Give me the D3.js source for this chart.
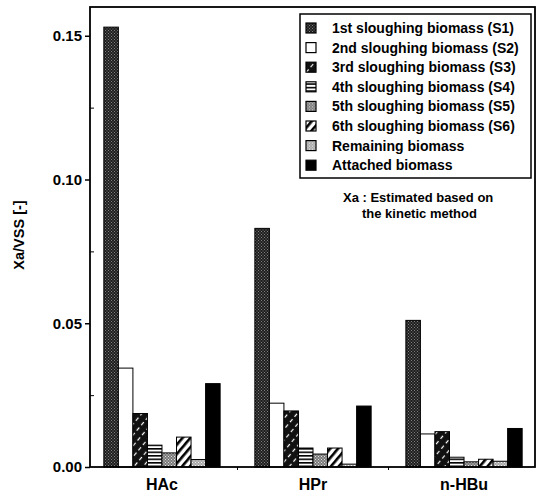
<!DOCTYPE html>
<html>
<head>
<meta charset="utf-8">
<script src="https://cdn.jsdelivr.net/npm/d3@7"></script>
<style>
  body { margin: 0; background: #fff; }
  text { font-family: "Liberation Sans", Arial, Helvetica, sans-serif; font-weight: bold; fill: #000; }
</style>
</head>
<body>
<svg id="chart" width="539" height="499"></svg>
<script>
// categories and series (Xa/VSS values)
var categories = ["HAc", "HPr", "n-HBu"];
var seriesNames = [
  "1st sloughing biomass (S1)",
  "2nd sloughing biomass (S2)",
  "3rd sloughing biomass (S3)",
  "4th sloughing biomass (S4)",
  "5th sloughing biomass (S5)",
  "6th sloughing biomass (S6)",
  "Remaining biomass",
  "Attached biomass"
];
var s1 = [0.153, 0.083, 0.051];
var s2 = [0.0344, 0.0222, 0.0115];
var s3 = [0.0186, 0.0195, 0.0123];
var s4 = [0.0076, 0.0066, 0.0034];
var s5 = [0.0049, 0.0045, 0.0018];
var s6 = [0.0104, 0.0066, 0.0027];
var remaining = [0.0026, 0.0010, 0.0020];
var attached = [0.029, 0.0212, 0.0134];
var yTicks = [0, 0.05, 0.10, 0.15];
var yMinorTicks = [0.025, 0.075, 0.125];

var allSeries = [s1, s2, s3, s4, s5, s6, remaining, attached];
var fills = ["url(#pS1)", "#fff", "url(#pS3)", "url(#pS4)", "url(#pS5)", "url(#pS6)", "url(#pRem)", "#000"];

var svg = d3.select("#chart");
var plotL = 90, plotR = 535, plotT = 7, plotB = 467;

// patterns
var defs = svg.append("defs");
function dots(id, bg, fg) {
  var p = defs.append("pattern").attr("id", id).attr("patternUnits", "userSpaceOnUse")
    .attr("width", 3).attr("height", 3);
  p.append("rect").attr("width", 3).attr("height", 3).attr("fill", bg);
  p.append("rect").attr("x", 0).attr("y", 0).attr("width", 1).attr("height", 1).attr("fill", fg);
  p.append("rect").attr("x", 1.5).attr("y", 1.5).attr("width", 1).attr("height", 1).attr("fill", fg);
}
dots("pS1", "#1e1e1e", "#808080");
dots("pS5", "#7a7a7a", "#e0e0e0");
dots("pRem", "#a8a8a8", "#f2f2f2");

var p3 = defs.append("pattern").attr("id", "pS3").attr("patternUnits", "userSpaceOnUse")
  .attr("width", 7).attr("height", 7).attr("patternTransform", "rotate(40)");
p3.append("rect").attr("width", 7).attr("height", 7).attr("fill", "#111");
p3.append("line").attr("x1", 3.5).attr("x2", 3.5).attr("y1", 0).attr("y2", 4)
  .attr("stroke", "#fff").attr("stroke-width", 1.2);

var p4 = defs.append("pattern").attr("id", "pS4").attr("patternUnits", "userSpaceOnUse")
  .attr("width", 4).attr("height", 3.5);
p4.append("rect").attr("width", 4).attr("height", 3.5).attr("fill", "#fff");
p4.append("rect").attr("y", 0).attr("width", 4).attr("height", 1.6).attr("fill", "#000");

var p6 = defs.append("pattern").attr("id", "pS6").attr("patternUnits", "userSpaceOnUse")
  .attr("width", 6).attr("height", 6).attr("patternTransform", "rotate(40)");
p6.append("rect").attr("width", 6).attr("height", 6).attr("fill", "#fff");
p6.append("rect").attr("x", 0).attr("width", 2.6).attr("height", 6).attr("fill", "#000");

// scales
var x = d3.scaleBand().domain(categories).range([plotL + 1, plotR]).paddingInner(0.23).paddingOuter(0.085);
var xs = d3.scaleBand().domain(d3.range(seriesNames.length)).range([0, x.bandwidth()]);
var y = d3.scaleLinear().domain([0, 0.16]).range([plotB, plotT]);

// bars
allSeries.forEach(function (vals, si) {
  svg.append("g").selectAll("rect")
    .data(vals)
    .enter().append("rect")
    .attr("x", function (d, i) { return x(categories[i]) + xs(si); })
    .attr("y", function (d) { return y(d); })
    .attr("width", xs.bandwidth())
    .attr("height", function (d) { return plotB - y(d); })
    .attr("fill", fills[si])
    .attr("stroke", "#000")
    .attr("stroke-width", 1);
});

// frame
svg.append("rect").attr("x", plotL).attr("y", plotT).attr("width", plotR - plotL).attr("height", plotB - plotT)
  .attr("fill", "none").attr("stroke", "#000").attr("stroke-width", 1.8);

// y axis
var yAxis = d3.axisLeft(y).tickValues(yTicks).tickFormat(d3.format(".2f")).tickSize(5).tickPadding(3);
var gy = svg.append("g").attr("transform", "translate(" + plotL + ",0)").call(yAxis);
gy.select(".domain").remove();
gy.selectAll("line").attr("stroke-width", 1.5);
gy.selectAll("text").style("font-size", "15px");
var gyMinor = svg.append("g").attr("transform", "translate(" + plotL + ",0)")
  .call(d3.axisRight(y).tickValues(yMinorTicks).tickSize(4).tickFormat(""));
gyMinor.select(".domain").remove();

// x axis
var xAxis = d3.axisBottom(x).tickSize(0).tickPadding(12);
var gx = svg.append("g").attr("transform", "translate(0," + plotB + ")").call(xAxis);
gx.select(".domain").remove();
gx.selectAll("text").style("font-size", "16px");
svg.append("g").selectAll("line")
  .data(categories.slice(1))
  .enter().append("line")
  .attr("x1", function (d) { return x(d) - x.step() * x.paddingInner() / 2; })
  .attr("x2", function (d) { return x(d) - x.step() * x.paddingInner() / 2; })
  .attr("y1", plotB).attr("y2", plotB + 3)
  .attr("stroke", "#000");

// y label
svg.append("text")
  .attr("transform", "translate(24,235) rotate(-90)")
  .attr("text-anchor", "middle")
  .style("font-size", "14.5px")
  .text("Xa/VSS [-]");

// legend
var lgX = 300, lgY = 14, rowH = 19.6;
svg.append("rect").attr("x", lgX).attr("y", lgY).attr("width", 231).attr("height", 164)
  .attr("fill", "#fff").attr("stroke", "#000").attr("stroke-width", 1.5);
var lg = svg.append("g").selectAll("g")
  .data(seriesNames)
  .enter().append("g")
  .attr("transform", function (d, i) { return "translate(" + (lgX + 6) + "," + (lgY + 14 + i * rowH) + ")"; });
lg.append("rect")
  .attr("x", 0).attr("y", -5).attr("width", 10).attr("height", 10)
  .attr("fill", function (d, i) { return fills[i]; })
  .attr("stroke", "#000").attr("stroke-width", 1.2);
lg.append("text")
  .attr("x", 26).attr("dy", "0.35em")
  .style("font-size", "14px")
  .text(function (d) { return d; });

// note
svg.append("text").attr("x", 343).attr("y", 202).style("font-size", "13px").text("Xa : Estimated based on");
svg.append("text").attr("x", 362).attr("y", 218).style("font-size", "13px").text("the kinetic method");
</script>
</body>
</html>
